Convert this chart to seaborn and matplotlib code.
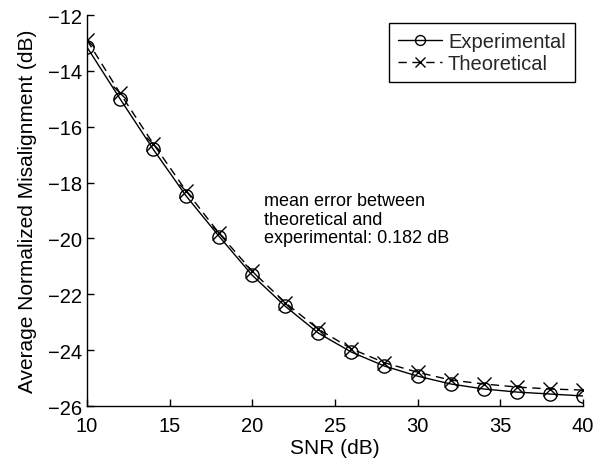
import matplotlib
matplotlib.use("Agg")
import matplotlib.pyplot as plt
import seaborn as sns
import pandas as pd

snr = [10, 12, 14, 16, 18, 20, 22, 24, 26, 28, 30, 32, 34, 36, 38, 40]
experimental = [-13.15, -15.0, -16.8, -18.48, -19.93, -21.32, -22.43, -23.39, -24.07,
                -24.57, -24.93, -25.21, -25.39, -25.5, -25.57, -25.64]
theoretical = [-12.9, -14.8, -16.6, -18.3, -19.82, -21.18, -22.3, -23.25, -23.95,
               -24.45, -24.79, -25.07, -25.21, -25.32, -25.39, -25.43]
xticks = [10, 15, 20, 25, 30, 35, 40]
yticks = [-26, -24, -22, -20, -18, -16, -14, -12]
annotation = "mean error between\ntheoretical and\nexperimental: 0.182 dB"

sns.set_theme(style="ticks")
plt.rcParams['font.family'] = ['Liberation Sans', 'DejaVu Sans']

df = pd.DataFrame({"snr": snr, "Experimental": experimental, "Theoretical": theoretical})

fig = plt.figure(figsize=(6.09, 4.60), dpi=100)
ax = fig.add_axes([0.1429, 0.1152, 0.957 - 0.1429, 0.965 - 0.1152])

sns.lineplot(data=df, x="snr", y="Experimental", ax=ax, color="black", linewidth=1.0,
             marker="o", markersize=9.5, markerfacecolor="none", markeredgecolor="black",
             markeredgewidth=1.0, label="Experimental")
sns.lineplot(data=df, x="snr", y="Theoretical", ax=ax, color="black", linewidth=1.0,
             linestyle=(0, (6, 4)), marker="x", markersize=9.5, markeredgecolor="black",
             markeredgewidth=1.0, label="Theoretical")

ax.set_xlim(10, 40)
ax.set_ylim(-26, -12)
ax.set_xticks(xticks)
ax.set_yticks(yticks)
ax.set_xticklabels([str(t) for t in xticks])
ax.set_yticklabels([("\u2212" + str(-t)) for t in yticks])
ax.tick_params(direction="in", length=5, width=1, labelsize=14.5, colors="black")
ax.tick_params(axis="x", pad=7.5)
ax.tick_params(axis="y", pad=3.5)
for s in ["top", "right"]:
    ax.spines[s].set_visible(False)
for s in ["left", "bottom"]:
    ax.spines[s].set_color("black")
    ax.spines[s].set_linewidth(1.0)

ax.set_xlabel("SNR (dB)", fontsize=15, color="black", labelpad=2)
ax.set_ylabel("Average Normalized Misalignment (dB)", fontsize=15, color="black", labelpad=8)

ax.text(20.7, -18.35, annotation, fontsize=13, va="top", ha="left", color="black",
        linespacing=1.1)

leg = ax.legend(loc="upper right", fontsize=14.5, frameon=True, fancybox=False,
                edgecolor="black", framealpha=1, handlelength=2.2, handletextpad=0.3,
                borderpad=0.45, labelspacing=0.15, borderaxespad=0.4, markerscale=0.75)
leg.get_frame().set_linewidth(1.0)

fig.savefig("out.png", dpi=100)
